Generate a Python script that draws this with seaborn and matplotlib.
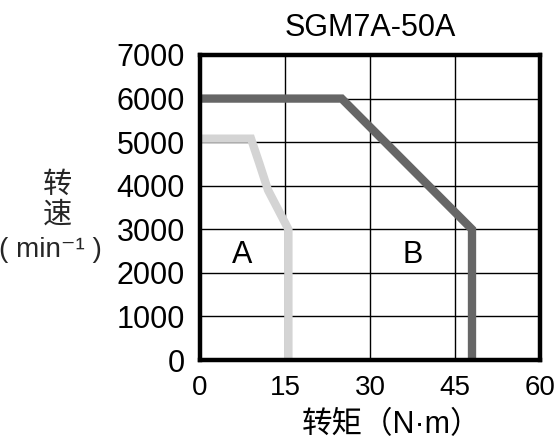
import matplotlib
matplotlib.use("Agg")
import matplotlib.pyplot as plt
import seaborn as sns
import pandas as pd

# Data
torque_A = [0, 9.0, 10.5, 12.0, 15.6, 15.6]
speed_A = [5080, 5080, 4500, 3900, 3000, 0]
torque_B = [0, 25.0, 48.0, 48.0]
speed_B = [6000, 6000, 3000, 0]
xticks = [0, 15, 30, 45, 60]
yticks = [0, 1000, 2000, 3000, 4000, 5000, 6000, 7000]
title = "SGM7A-50A"
xlabel = "转矩（N·m）"
ylabel_lines = ["转", "速", "( min⁻¹ )"]
region_labels = ["A", "B"]
region_pos = [(7.4, 2400), (37.6, 2400)]

sns.set_theme(style="white")
plt.rcParams['font.family'] = ['Liberation Sans', 'Noto Sans CJK SC', 'DejaVu Sans']

fig = plt.figure(figsize=(5.58, 4.41), dpi=100)
ax = fig.add_axes([200/558, 1-360/441, 340/558, 305/441])

dfA = pd.DataFrame({"torque": torque_A, "speed": speed_A})
dfB = pd.DataFrame({"torque": torque_B, "speed": speed_B})

sns.lineplot(data=dfA, x="torque", y="speed", sort=False, estimator=None, ax=ax,
             color="#d4d4d4", linewidth=6.0, solid_joinstyle="miter", solid_capstyle="butt", zorder=3)
sns.lineplot(data=dfB, x="torque", y="speed", sort=False, estimator=None, ax=ax,
             color="#666666", linewidth=6.0, solid_joinstyle="miter", solid_capstyle="butt", zorder=3)

ax.set_xlim(0, 60)
ax.set_ylim(0, 7000)
ax.set_xticks(xticks)
ax.set_yticks(yticks)
ax.grid(True, color="black", linewidth=1.0)
ax.set_axisbelow(True)
for s in ax.spines.values():
    s.set_color("black")
    s.set_linewidth(3.2)
    s.set_zorder(5)
ax.tick_params(axis="both", length=0, colors="black")
ax.tick_params(axis="y", pad=11, labelsize=22)
ax.tick_params(axis="x", pad=11, labelsize=20)

ax.set_xlabel(xlabel, fontsize=22, color="black", va="center")
ax.xaxis.set_label_coords((392-200)/340, (360-425)/305)
ax.set_ylabel("")
ax.set_title(title, fontsize=22, color="black", pad=14)

for lab, (x, y) in zip(region_labels, region_pos):
    ax.text(x, y, lab, fontsize=22, color="black", ha="center", va="center", zorder=4)

fig.text(57/558, 1-185/441, ylabel_lines[0], fontsize=21, ha="center", va="center")
fig.text(57/558, 1-215/441, ylabel_lines[1], fontsize=21, ha="center", va="center")
fig.text(50/558, 1-250/441, ylabel_lines[2], fontsize=20, ha="center", va="center")

fig.savefig("out.png", dpi=100)
